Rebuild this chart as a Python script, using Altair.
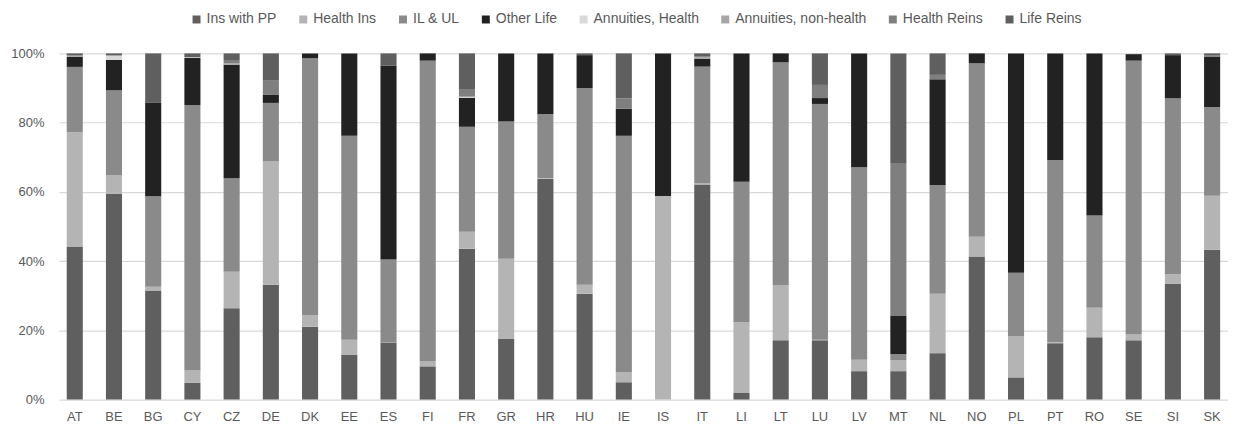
import altair as alt
import pandas as pd

countries = ["AT", "BE", "BG", "CY", "CZ", "DE", "DK", "EE", "ES", "FI",
             "FR", "GR", "HR", "HU", "IE", "IS", "IT", "LI", "LT", "LU",
             "LV", "MT", "NL", "NO", "PL", "PT", "RO", "SE", "SI", "SK"]

series = ["Ins with PP", "Health Ins", "IL & UL", "Other Life",
          "Annuities, Health", "Annuities, non-health", "Health Reins", "Life Reins"]

colors = ["#5f5f5f", "#b4b4b4", "#8a8a8a", "#222222",
          "#d9d9d9", "#a6a6a6", "#7f7f7f", "#5f5f5f"]

ins_pp =      [44.2, 59.4, 31.5, 4.8, 26.4, 33.2, 21.0, 13.0, 16.5, 9.6,
               43.6, 17.5, 63.8, 30.6, 5.0, 0.0, 62.1, 1.9, 17.1, 17.1,
               8.2, 8.2, 13.4, 41.3, 6.4, 16.3, 18.0, 17.1, 33.4, 43.3]
health_ins =  [33.0, 5.5, 1.1, 3.6, 10.5, 35.7, 3.4, 4.3, 0.1, 1.5,
               4.9, 23.2, 0.2, 2.6, 2.9, 58.8, 0.4, 20.4, 16.0, 0.2,
               3.3, 3.1, 17.2, 5.7, 11.8, 0.3, 8.5, 1.7, 2.7, 15.6]
il_ul =       [18.9, 24.5, 26.1, 76.7, 27.0, 16.8, 74.2, 58.9, 23.9, 86.8,
               30.3, 39.6, 18.5, 56.8, 68.3, 0.0, 33.6, 40.6, 64.3, 68.1,
               55.6, 1.8, 31.4, 50.2, 18.4, 52.6, 26.7, 79.1, 51.0, 25.6]
other_life =  [2.9, 8.7, 27.0, 13.6, 32.8, 2.3, 1.4, 23.8, 56.1, 2.1,
               8.4, 19.7, 17.5, 9.5, 7.8, 41.2, 2.3, 37.1, 2.6, 1.7,
               32.9, 11.2, 30.5, 2.8, 63.4, 30.8, 46.8, 1.9, 12.4, 14.5]
ann_health =  [0.0, 1.3, 0.0, 0.2, 0.0, 0.0, 0.0, 0.0, 0.0, 0.0,
               0.3, 0.0, 0.0, 0.0, 0.0, 0.0, 0.0, 0.0, 0.0, 0.0,
               0.0, 0.0, 0.0, 0.0, 0.0, 0.0, 0.0, 0.2, 0.0, 0.0]
ann_nonhealth = [0.3, 0.0, 0.0, 0.0, 0.4, 0.0, 0.0, 0.0, 0.0, 0.0,
               0.0, 0.0, 0.0, 0.0, 0.0, 0.0, 0.4, 0.0, 0.0, 0.0,
               0.0, 0.0, 0.0, 0.0, 0.0, 0.0, 0.0, 0.0, 0.0, 0.0]
health_reins = [0.2, 0.0, 0.0, 0.0, 1.0, 4.3, 0.0, 0.0, 0.0, 0.0,
               2.0, 0.0, 0.0, 0.0, 3.0, 0.0, 0.3, 0.0, 0.0, 3.8,
               0.0, 43.8, 1.3, 0.0, 0.0, 0.0, 0.0, 0.0, 0.0, 0.5]
life_reins =  [0.5, 0.6, 14.3, 1.1, 1.9, 7.7, 0.0, 0.0, 3.5, 0.0,
               10.5, 0.0, 0.0, 0.5, 13.0, 0.0, 0.8, 0.0, 0.0, 9.1,
               0.0, 31.9, 6.2, 0.0, 0.0, 0.0, 0.0, 0.0, 0.5, 0.5]

values = [ins_pp, health_ins, il_ul, other_life, ann_health,
          ann_nonhealth, health_reins, life_reins]

rows = []
for si, (name, vals) in enumerate(zip(series, values)):
    for c, v in zip(countries, vals):
        rows.append({"country": c, "series": name, "order": si, "value": v})
df = pd.DataFrame(rows)

font = "Liberation Sans"
text_color = "#595959"

chart = alt.Chart(df).mark_bar().encode(
    x=alt.X("country:N", sort=countries, title=None,
            scale=alt.Scale(paddingInner=0.59, paddingOuter=0.2),
            axis=alt.Axis(labelAngle=0, ticks=False, domain=False,
                          labelPadding=11, labelFontSize=13,
                          labelColor=text_color, labelFont=font)),
    y=alt.Y("value:Q", stack="normalize", title=None,
            scale=alt.Scale(domain=[0, 1]),
            axis=alt.Axis(format=".0%", values=[0, 0.2, 0.4, 0.6, 0.8, 1.0],
                          ticks=False, domain=False, labelPadding=15,
                          labelFontSize=13, labelColor=text_color,
                          labelFont=font, gridColor="#d9d9d9",
                          gridWidth=1.2)),
    color=alt.Color("series:N",
                    scale=alt.Scale(domain=series, range=colors),
                    legend=alt.Legend(title=None, orient="none",
                                      direction="horizontal", columns=8,
                                      legendX=131, legendY=-41,
                                      symbolType="square", symbolSize=64,
                                      symbolStrokeWidth=0, labelOffset=3,
                                      columnPadding=19, labelFontSize=14,
                                      labelFont=font, labelColor=text_color)),
    order=alt.Order("order:Q", sort="ascending"),
).properties(
    width=1172,
    height=347,
    autosize=alt.AutoSizeParams(type="none"),
    padding={"left": 51, "top": 45, "right": 0, "bottom": 27},
).configure_view(stroke=None)

chart.save("out.html", embed_options={"renderer": "svg", "actions": False})
